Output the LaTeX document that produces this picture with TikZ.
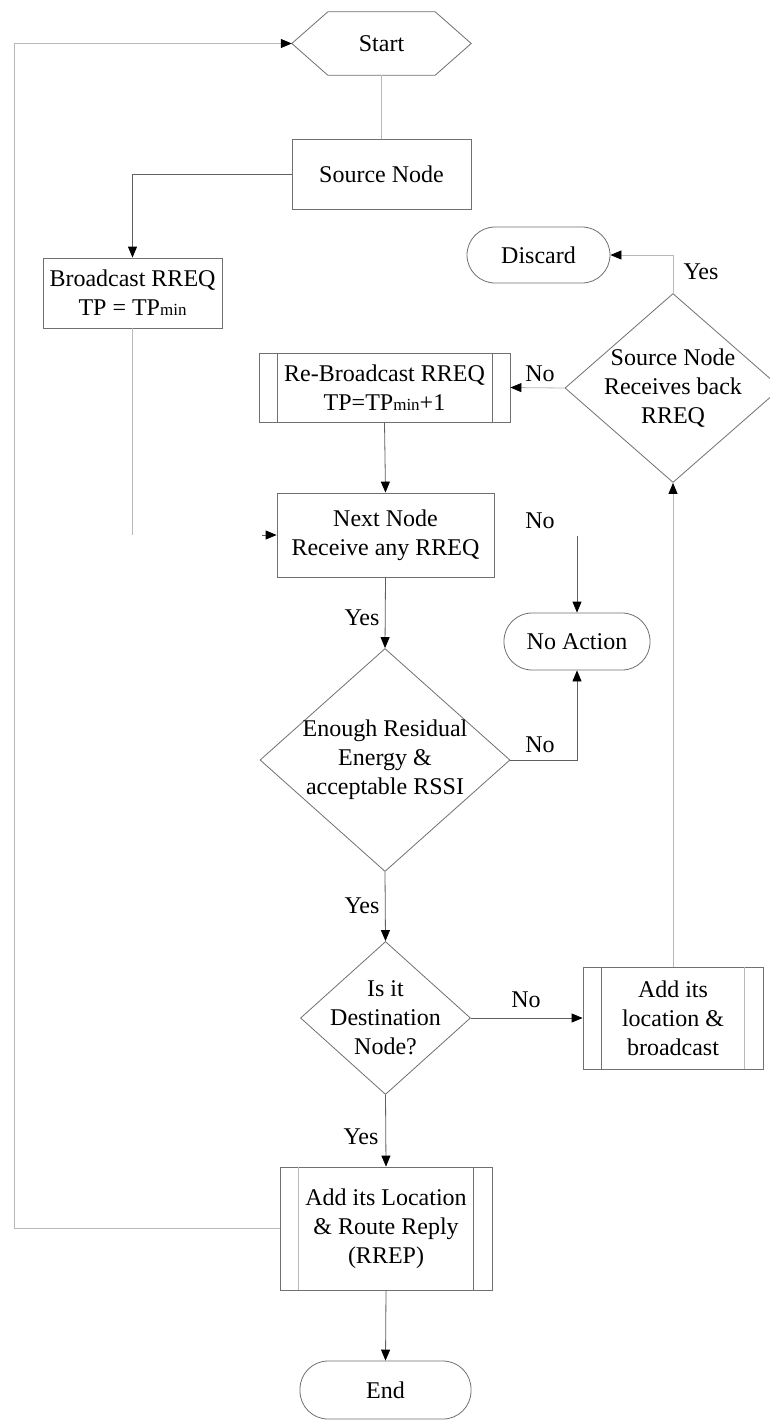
\documentclass[tikz,border=0pt]{standalone}
\usepackage{fontspec}
\setmainfont{Liberation Serif}
\usetikzlibrary{shapes.geometric,arrows.meta}
\definecolor{bord}{HTML}{707070}
\definecolor{lnd}{HTML}{606060}
\definecolor{lnl}{HTML}{B8B8B8}
\begin{document}
\begin{tikzpicture}[x=1pt,y=-1pt,
  every node/.style={font=\fontsize{24}{29}\selectfont, inner sep=0pt, align=center},
  boxn/.style={draw=bord, line width=0.8pt, rectangle},
  term/.style={draw=bord, line width=0.8pt, rectangle, rounded corners=28pt},
  dia/.style={draw=bord, line width=0.8pt, diamond},
  conn/.style={draw=lnd, line width=0.8pt},
  connl/.style={draw=lnl, line width=0.8pt},
  arr/.style={-{Triangle[length=11pt,width=9pt,color=black]}},
  lab/.style={font=\fontsize{24}{29}\selectfont}
]
\useasboundingbox (0,0) rectangle (769,1421);
\fill[white] (0,0) rectangle (769,1421);
\newcommand{\mn}{{\fontsize{17}{20}\selectfont min}}

% Start hexagon
\node[minimum width=179pt, minimum height=63pt] (start) at (381.5,43.5) {Start};
\draw[bord, line width=0.8pt] (start.west) -- ([xshift=36pt]start.north west) -- ([xshift=-36pt]start.north east) -- (start.east) -- ([xshift=-36pt]start.south east) -- ([xshift=36pt]start.south west) -- cycle;

\node[boxn, minimum width=179pt, minimum height=70pt] (src) at (381.5,174) {Source Node};
\node[boxn, minimum width=179pt, minimum height=70pt] (bc) at (132.5,293) {Broadcast RREQ\\TP = TP\mn};

\node[boxn, minimum width=251pt, minimum height=69pt] (rebc) at (384.5,387.5) {Re-Broadcast RREQ\\TP=TP\mn+1};
\draw[bord, line width=0.8pt] ([xshift=19pt]rebc.north west) -- ([xshift=19pt]rebc.south west);
\draw[bord, line width=0.8pt] ([xshift=-18pt]rebc.north east) -- ([xshift=-18pt]rebc.south east);

\node[boxn, minimum width=217pt, minimum height=84pt] (next) at (385.5,535) {Next Node\\Receive any RREQ};

\node[term, minimum width=143pt, minimum height=56pt] (disc) at (538.5,255) {Discard};

\node[dia, minimum width=216pt, minimum height=189pt, label={[align=center]center:Source Node\\Receives back\\RREQ}] (d0) at (673,388) {};

\node[term, minimum width=146pt, minimum height=57pt] (noact) at (577,641.5) {No Action};

\node[dia, minimum width=250pt, minimum height=223pt, label={[align=center]center:Enough Residual\\Energy \&\\acceptable RSSI}] (d1) at (385,760) {};

\node[dia, minimum width=170pt, minimum height=153pt, label={[align=center]center:Is it\\Destination\\Node?}] (d2) at (385.5,1018) {};

\node[boxn, minimum width=180pt, minimum height=102pt] (addb) at (673,1018) {Add its\\location \&\\broadcast};
\draw[bord, line width=0.8pt] ([xshift=19pt]addb.north west) -- ([xshift=19pt]addb.south west);
\draw[lnl, line width=0.8pt] ([xshift=-19pt]addb.north east) -- ([xshift=-19pt]addb.south east);

\node[boxn, minimum width=212pt, minimum height=123pt] (rrep) at (386,1228.5) {Add its Location\\\& Route Reply\\(RREP)};
\draw[lnl, line width=0.8pt] ([xshift=19pt]rrep.north west) -- ([xshift=19pt]rrep.south west);
\draw[bord, line width=0.8pt] ([xshift=-19pt]rrep.north east) -- ([xshift=-19pt]rrep.south east);

\node[term, minimum width=171pt, minimum height=58pt] (end) at (385.5,1390) {End};

% coordinates for free ends
\coordinate (bcend) at (132.5,535);
\coordinate (stub) at (262,535);
\coordinate (nostart) at (577,536);
\coordinate (fb) at (14,1228.5);

% connectors
\draw[connl] (start.south) -- (src.north);
\draw[conn, arr] (src.west) -| (bc.north);
\draw[connl] (bc.south) -- (bcend);
\draw[conn, arr] (stub) -- (next.west);
\draw[conn, arr] (rebc.south) -- (next.north);
\draw[conn, arr] (next.south) -- (d1.north);
\draw[conn, arr] (nostart) -- (noact.north);
\draw[conn, arr] (d1.east) -| (noact.south);
\draw[conn, arr] (d1.south) -- (d2.north);
\draw[conn, arr] (d2.east) -- (addb.west);
\draw[connl, arr] (addb.north) -- (d0.south);
\draw[connl, arr] (d0.north) |- (disc.east);
\draw[connl, arr] (d0.west) -- (rebc.east);
\draw[conn, arr] (d2.south) -- (rrep.north);
\draw[conn, arr] (rrep.south) -- (end.north);
\draw[connl, arr] (rrep.west) -- (fb) |- (start.west);

% labels
\node[lab] (l1) at (362,618) {Yes};
\node[lab] (l2) at (540,521) {No};
\node[lab] (l3) at (540,745) {No};
\node[lab] (l4) at (362,906) {Yes};
\node[lab] (l5) at (526,1000) {No};
\node[lab] (l6) at (701,272) {Yes};
\node[lab] (l7) at (540,374) {No};
\node[lab] (l8) at (361,1137) {Yes};
\end{tikzpicture}
\end{document}
